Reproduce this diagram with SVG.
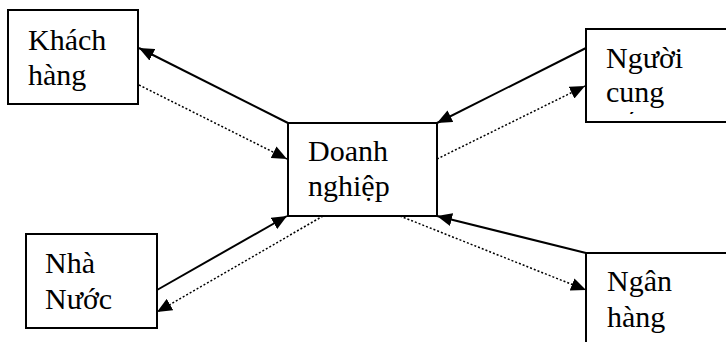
<svg xmlns="http://www.w3.org/2000/svg" width="726" height="342" viewBox="0 0 726 342">
<style>
.box{fill:#fff;stroke:#000;stroke-width:2}
.t{font-family:"Liberation Serif","Times New Roman",serif;font-size:30px;fill:#000}
.s{stroke:#000;stroke-width:2;fill:none}
.d{stroke:#000;stroke-width:1.5;fill:none;stroke-dasharray:2,2}
</style>
<defs>
<marker id="ah" markerUnits="userSpaceOnUse" markerWidth="15" markerHeight="13" refX="15" refY="6.5" orient="auto" viewBox="0 0 15 13">
<path d="M0,0 L15,6.5 L0,13 z" fill="#000"/>
</marker>
<clipPath id="clipN"><rect x="587" y="30" width="140" height="84"/></clipPath>
</defs>
<rect width="726" height="342" fill="#fff"/>
<g id="connectors">
<line class="s" x1="288" y1="123" x2="139" y2="48" marker-end="url(#ah)"/>
<line class="d" x1="139" y1="85" x2="287" y2="159" marker-end="url(#ah)"/>
<line class="s" x1="586" y1="48" x2="437" y2="123" marker-end="url(#ah)"/>
<line class="d" x1="437" y1="159" x2="585" y2="86" marker-end="url(#ah)"/>
<line class="s" x1="157" y1="290" x2="287" y2="216" marker-end="url(#ah)"/>
<line class="d" x1="323" y1="216" x2="157" y2="312" marker-end="url(#ah)"/>
<line class="s" x1="586" y1="253" x2="437" y2="216" marker-end="url(#ah)"/>
<line class="d" x1="400" y1="216" x2="586" y2="290" marker-end="url(#ah)"/>
</g>
<g id="khach-hang">
<rect class="box" x="8" y="10" width="130" height="94"/>
<text class="t" x="28" y="50">Khách</text>
<text class="t" x="28" y="85">hàng</text>
</g>
<g id="doanh-nghiep">
<rect class="box" x="288" y="123" width="149" height="93"/>
<text class="t" x="308" y="161">Doanh</text>
<text class="t" x="308" y="196">nghiệp</text>
</g>
<g id="nguoi-cung">
<rect class="box" x="586" y="29" width="150" height="93"/>
<g clip-path="url(#clipN)">
<text class="t" x="606" y="68">Người</text>
<text class="t" x="606" y="102">cung</text>
<text class="t" x="606" y="134">cấp</text>
</g>
</g>
<g id="nha-nuoc">
<rect class="box" x="26" y="234" width="131" height="94"/>
<text class="t" x="45" y="273">Nhà</text>
<text class="t" x="45" y="309">Nước</text>
</g>
<g id="ngan-hang">
<rect class="box" x="586" y="253" width="150" height="100"/>
<text class="t" x="607" y="291">Ngân</text>
<text class="t" x="607" y="327">hàng</text>
</g>
</svg>
